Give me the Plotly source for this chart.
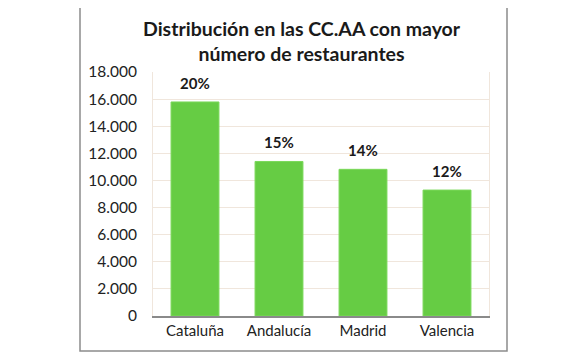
import plotly.graph_objects as go

categories = ["Cataluña", "Andalucía", "Madrid", "Valencia"]
values = [15790, 11400, 10820, 9290]
percent_labels = ["20%", "15%", "14%", "12%"]
y_ticks = list(range(0, 18001, 2000))
y_tick_labels = ["0", "2.000", "4.000", "6.000", "8.000", "10.000", "12.000", "14.000", "16.000", "18.000"]

# page body has an 8px margin; work in page pixels and subtract it
OFF = 8
W, H = 585 - OFF, 355 - OFF
L, T = 153 - OFF, 72 - OFF
PR, PB = 489 - OFF, 316 - OFF
R, B = W - PR, H - PB
pw, ph = PR - L, PB - T

def px_x(x):
    return (x - OFF - L) / pw

def px_y(y):
    return (PB - (y - OFF)) / ph

fig = go.Figure()
fig.add_trace(go.Bar(
    x=categories, y=values,
    marker=dict(color="#66cc44", line=dict(color="#7ad85a", width=1)),
    width=0.57,
    hoverinfo="skip",
))

for c, v, t in zip(categories, values, percent_labels):
    fig.add_annotation(x=c, y=v, text=t, showarrow=False, yanchor="bottom", yshift=8,
                       font=dict(family="Lato", size=15, color="#1a1a1a", weight="bold"))

fig.add_annotation(xref="paper", yref="paper", x=px_x(302), y=px_y(41),
                   text="<b>Distribución en las CC.AA con mayor<br>número de restaurantes</b>",
                   showarrow=False, xanchor="center", yanchor="middle", align="center",
                   font=dict(family="Lato", size=19.5, color="#1a1a1a"))

fig.add_shape(type="rect", xref="paper", yref="paper",
              x0=px_x(80), x1=px_x(507), y0=px_y(351), y1=px_y(4),
              line=dict(color="#8c8c8c", width=1.5), fillcolor="rgba(0,0,0,0)", layer="below")

fig.update_layout(
    width=W, height=H,
    margin=dict(l=L, r=R, t=T, b=B),
    paper_bgcolor="white", plot_bgcolor="white",
    showlegend=False,
    bargap=0.43,
    font=dict(family="Lato", size=15, color="#222222"),
)
fig.update_xaxes(showline=True, linecolor="#8a8a8a", linewidth=1.5, ticks="", showgrid=False,
                 tickfont=dict(size=15, color="#222222"), fixedrange=True)
fig.update_yaxes(range=[0, 18000], tickvals=y_ticks, ticktext=y_tick_labels,
                 showgrid=True, gridcolor="#f0e6dc", gridwidth=1, zeroline=False,
                 showline=True, linecolor="#f0e6dc", mirror=True,
                 ticks="", ticklabelstandoff=12,
                 tickfont=dict(size=15.5, color="#222222"), fixedrange=True)

fig.write_html("out.html")
